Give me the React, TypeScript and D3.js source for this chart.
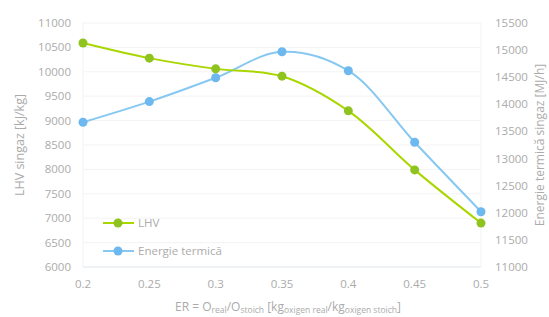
import { useEffect, useRef } from "react";
import * as d3 from "d3";

const erValues = [0.2, 0.25, 0.3, 0.35, 0.4, 0.45, 0.5];
const lhvValues = [10590, 10280, 10060, 9910, 9200, 7990, 6900];
const energyValues = [13670, 14050, 14490, 14970, 14620, 13300, 12020];
const xTickLabels = ["0.2", "0.25", "0.3", "0.35", "0.4", "0.45", "0.5"];
const leftTicks = d3.range(6000, 11001, 500);
const rightTicks = d3.range(11000, 15501, 500);

const GREEN_LINE = "#aad600";
const GREEN_DOT = "#8fc31f";
const BLUE_LINE = "#86c8f2";
const BLUE_DOT = "#6cb8ef";
const TEXT = "#ababab";

export default function App() {
	const ref = useRef<SVGSVGElement>(null);

	useEffect(() => {
		const svg = d3.select(ref.current);
		svg.selectAll("*").remove();

		const left = 83, right = 481, top = 23, bottom = 267;

		const x = d3.scaleLinear().domain([0.2, 0.5]).range([left, right]);
		const yL = d3.scaleLinear().domain([6000, 11000]).range([bottom, top]);
		const yR = d3.scaleLinear().domain([11000, 15500]).range([bottom, top]);

		const font = "'Open Sans', sans-serif";

		// gridlines
		svg.append("g")
			.selectAll("line")
			.data(leftTicks)
			.enter()
			.append("line")
			.attr("x1", left)
			.attr("x2", right)
			.attr("y1", d => yL(d))
			.attr("y2", d => yL(d))
			.attr("stroke", d => (d === 6000 ? "#dfe6ea" : "#f3f3f3"))
			.attr("stroke-width", 1);

		// faint vertical edges
		[left, right].forEach(px => {
			svg.append("line")
				.attr("x1", px).attr("x2", px)
				.attr("y1", top).attr("y2", bottom)
				.attr("stroke", "#f1f4f4");
		});

		// left axis labels
		svg.append("g")
			.selectAll("text")
			.data(leftTicks)
			.enter()
			.append("text")
			.attr("x", 71)
			.attr("y", d => yL(d))
			.attr("dy", "0.35em")
			.attr("text-anchor", "end")
			.attr("font-family", font)
			.attr("font-size", "11.5px")
			.attr("fill", TEXT)
			.text(d => String(d));

		// right axis labels
		svg.append("g")
			.selectAll("text")
			.data(rightTicks)
			.enter()
			.append("text")
			.attr("x", 495)
			.attr("y", d => yR(d))
			.attr("dy", "0.35em")
			.attr("text-anchor", "start")
			.attr("font-family", font)
			.attr("font-size", "11.5px")
			.attr("fill", TEXT)
			.text(d => String(d));

		// x axis labels
		svg.append("g")
			.selectAll("text")
			.data(erValues)
			.enter()
			.append("text")
			.attr("x", d => x(d))
			.attr("y", 284)
			.attr("dy", "0.35em")
			.attr("text-anchor", "middle")
			.attr("font-family", font)
			.attr("font-size", "11.5px")
			.attr("fill", TEXT)
			.text((_, i) => xTickLabels[i]);

		// axis titles
		svg.append("text")
			.attr("transform", `translate(24,${(top + bottom) / 2}) rotate(-90)`)
			.attr("text-anchor", "middle")
			.attr("font-family", font)
			.attr("font-size", "12.5px")
			.attr("fill", TEXT)
			.text("LHV singaz [kJ/kg]");

		svg.append("text")
			.attr("transform", `translate(544,${(top + bottom) / 2}) rotate(-90)`)
			.attr("text-anchor", "middle")
			.attr("font-family", font)
			.attr("font-size", "12px")
			.attr("fill", TEXT)
			.text("Energie termică singaz [MJ/h]");

		const xt = svg.append("text")
			.attr("x", 288)
			.attr("y", 311)
			.attr("text-anchor", "middle")
			.attr("font-family", font)
			.attr("font-size", "12px")
			.attr("fill", TEXT);
		const parts: [string, boolean][] = [
			["ER = O", false], ["real", true], ["/O", false], ["stoich", true],
			[" [kg", false], ["oxigen real", true], ["/kg", false], ["oxigen stoich", true], ["]", false],
		];
		parts.forEach(([t, sub]) => {
			xt.append("tspan")
				.attr("font-size", sub ? "8.5px" : "12px")
				.attr("baseline-shift", sub ? "-25%" : "0")
				.text(t);
		});

		// lines
		const lineL = d3.line<number>()
			.x((_, i) => x(erValues[i]))
			.y(d => yL(d))
			.curve(d3.curveCatmullRom.alpha(0.5));
		const lineR = d3.line<number>()
			.x((_, i) => x(erValues[i]))
			.y(d => yR(d))
			.curve(d3.curveCatmullRom.alpha(0.5));

		svg.append("path")
			.datum(energyValues)
			.attr("d", lineR)
			.attr("fill", "none")
			.attr("stroke", BLUE_LINE)
			.attr("stroke-width", 2);

		svg.append("path")
			.datum(lhvValues)
			.attr("d", lineL)
			.attr("fill", "none")
			.attr("stroke", GREEN_LINE)
			.attr("stroke-width", 2);

		svg.append("g")
			.selectAll("circle")
			.data(energyValues)
			.enter()
			.append("circle")
			.attr("cx", (_, i) => x(erValues[i]))
			.attr("cy", d => yR(d))
			.attr("r", 4.5)
			.attr("fill", BLUE_DOT);

		svg.append("g")
			.selectAll("circle")
			.data(lhvValues)
			.enter()
			.append("circle")
			.attr("cx", (_, i) => x(erValues[i]))
			.attr("cy", d => yL(d))
			.attr("r", 4.5)
			.attr("fill", GREEN_DOT);

		// legend
		const legend = [
			{ label: "LHV", line: GREEN_LINE, dot: GREEN_DOT, y: 223 },
			{ label: "Energie termică", line: BLUE_LINE, dot: BLUE_DOT, y: 251 },
		];
		legend.forEach(l => {
			svg.append("line")
				.attr("x1", 103).attr("x2", 134)
				.attr("y1", l.y).attr("y2", l.y)
				.attr("stroke", l.line)
				.attr("stroke-width", 2);
			svg.append("circle")
				.attr("cx", 118).attr("cy", l.y)
				.attr("r", 4.5)
				.attr("fill", l.dot);
			svg.append("text")
				.attr("x", 138)
				.attr("y", l.y)
				.attr("dy", "0.35em")
				.attr("font-family", font)
				.attr("font-size", "11.5px")
				.attr("fill", TEXT)
				.text(l.label);
		});
	}, []);

	return (
		<svg
			ref={ref}
			width={549}
			height={317}
			style={{ position: "absolute", left: 0, top: 0, background: "#fff" }}
		/>
	);
}
